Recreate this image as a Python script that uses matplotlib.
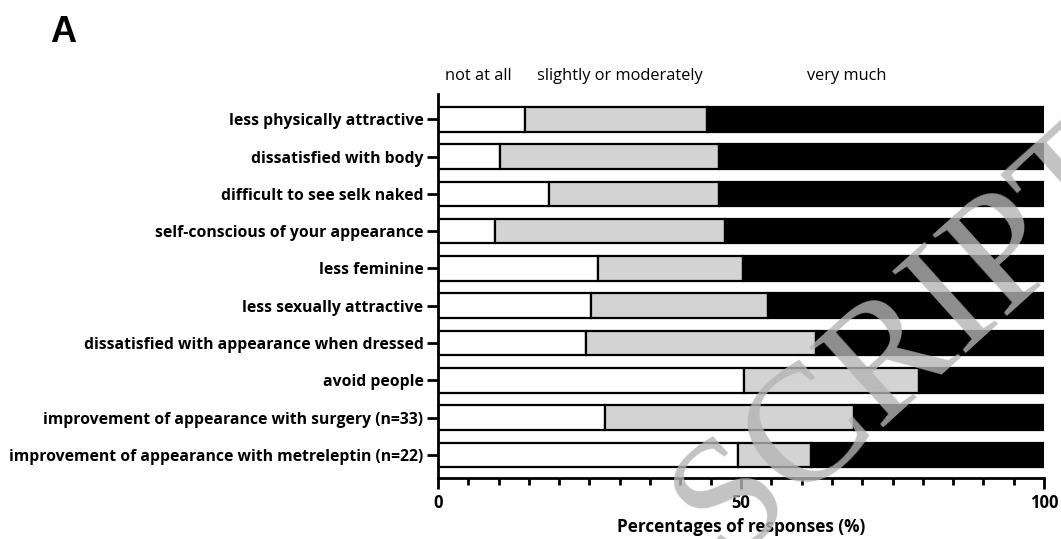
import numpy as np
import matplotlib
matplotlib.use('Agg')
import matplotlib.pyplot as plt

plt.rcParams['font.family'] = ['Open Sans', 'DejaVu Sans']

items = [
    'less physically attractive',
    'dissatisfied with body',
    'difficult to see selk naked',
    'self-conscious of your appearance',
    'less feminine',
    'less sexually attractive',
    'dissatisfied with appearance when dressed',
    'avoid people',
    'improvement of appearance with surgery (n=33)',
    'improvement of appearance with metreleptin (n=22)',
]
not_at_all = [14.3, 10.3, 18.4, 9.4, 26.4, 25.3, 24.4, 50.5, 27.6, 49.5]
slightly = [30.1, 36.0, 27.9, 37.9, 24.0, 29.1, 37.9, 28.8, 41.0, 12.0]
very_much = [100 - a - b for a, b in zip(not_at_all, slightly)]
header = ['not at all', 'slightly or moderately', 'very much']
header_x = [6.6, 30.0, 67.5]

fig = plt.figure(figsize=(10.61, 5.39), dpi=100)
ax = fig.add_axes([0.4128, 0.1132, 0.5712, 0.7124])

y = np.arange(len(items))
h = 0.66
ax.barh(y, not_at_all, height=h, color='white', edgecolor='black', linewidth=1.6)
ax.barh(y, slightly, left=not_at_all, height=h, color='#d3d3d3', edgecolor='black', linewidth=1.6)
ax.barh(y, very_much, left=np.add(not_at_all, slightly), height=h, color='black',
        edgecolor='black', linewidth=1.6)

ax.set_xlim(0, 100)
ax.set_ylim(9.62, -0.68)
ax.set_yticks(y)
ax.set_yticklabels(items, fontsize=11.3, fontweight='bold')
ax.set_xticks([0, 50, 100])
ax.set_xticklabels(['0', '50', '100'], fontsize=12, fontweight='bold')
ax.set_xticks(np.arange(0, 101, 5), minor=True)
ax.tick_params(axis='y', length=8, width=2, pad=2.5)
ax.tick_params(axis='x', which='major', length=8, width=2, pad=3.5)
ax.tick_params(axis='x', which='minor', length=5, width=2)
for s in ['top', 'right']:
    ax.spines[s].set_visible(False)
for s in ['left', 'bottom']:
    ax.spines[s].set_linewidth(2)
ax.set_xlabel('Percentages of responses (%)', fontsize=12.3, fontweight='bold', labelpad=4)

for t, xp in zip(header, header_x):
    ax.text(xp, -1.17, t, ha='center', va='center', fontsize=11.8)

fig.text(0.047, 0.94, 'A', fontsize=26, fontweight='bold', ha='left', va='center',
         family=['Liberation Sans', 'DejaVu Sans'])

# faint journal watermark
fig.text(0.856, 0.369, 'SCRIPT', rotation=42, fontsize=120, family=['Liberation Serif'],
         color='#b4b4b4', alpha=0.8, ha='center', va='center', rotation_mode='anchor',
         zorder=10)

fig.savefig('out.png', dpi=100, facecolor='white')
